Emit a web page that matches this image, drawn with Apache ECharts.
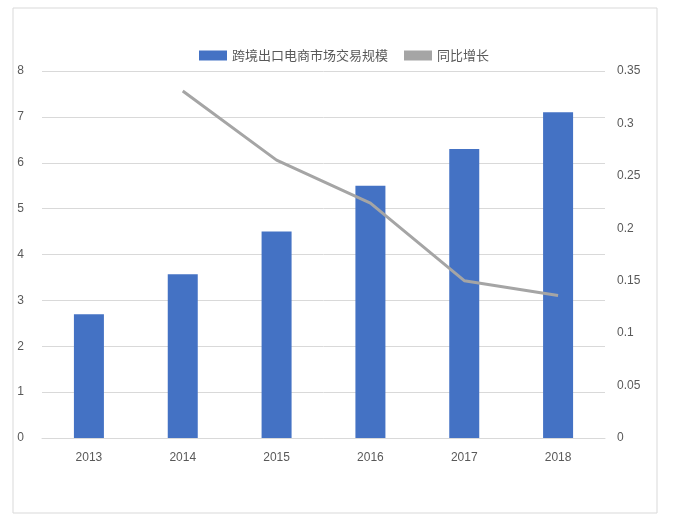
<!DOCTYPE html>
<html><head><meta charset="utf-8">
<script src="https://cdn.jsdelivr.net/npm/echarts@6/dist/echarts.min.js"></script>
<style>body{margin:0}#c{width:688px;height:525px}</style></head>
<body><div id="c"></div>
<script>
const categories=['2013','2014','2015','2016','2017','2018'];
const scaleValues=[2.7,3.57,4.5,5.5,6.3,7.1];
const growthValues=[null,0.331,0.265,0.224,0.150,0.136];
const leftTicks=[0,8,1];
const rightTicks=[0,0.35,0.05];
const chart=echarts.init(document.getElementById('c'));
const f='"Noto Sans CJK SC", "Noto Sans", sans-serif';
chart.setOption({
  graphic:[{type:'rect',shape:{x:13,y:8,width:644,height:505},style:{fill:'none',stroke:'#d9d9d9',lineWidth:1}}],
  legend:{top:44,left:'center',itemWidth:28,itemHeight:10,itemGap:16,textStyle:{fontFamily:f,fontSize:13,color:'#595959'},
    data:[{name:'跨境出口电商市场交易规模',icon:'rect'},{name:'同比增长',icon:'rect'}]},
  grid:{left:42,right:83,top:71,bottom:87},
  xAxis:{type:'category',data:categories,axisTick:{show:false},axisLine:{lineStyle:{color:'#d9d9d9'}},
    axisLabel:{color:'#595959',fontSize:12,margin:14}},
  yAxis:[
    {type:'value',min:leftTicks[0],max:leftTicks[1],interval:leftTicks[2],axisLabel:{color:'#595959',fontSize:12,margin:18},
      splitLine:{lineStyle:{color:'#d9d9d9'}}},
    {type:'value',min:rightTicks[0],max:rightTicks[1],interval:rightTicks[2],axisLabel:{color:'#595959',fontSize:12,margin:12},splitLine:{show:false}}
  ],
  series:[
    {name:'跨境出口电商市场交易规模',type:'bar',data:scaleValues,barWidth:30,itemStyle:{color:'#4472c4'}},
    {name:'同比增长',type:'line',yAxisIndex:1,data:growthValues,symbol:'none',lineStyle:{color:'#a5a5a5',width:3},itemStyle:{color:'#a5a5a5'}}
  ]
});
</script></body></html>
